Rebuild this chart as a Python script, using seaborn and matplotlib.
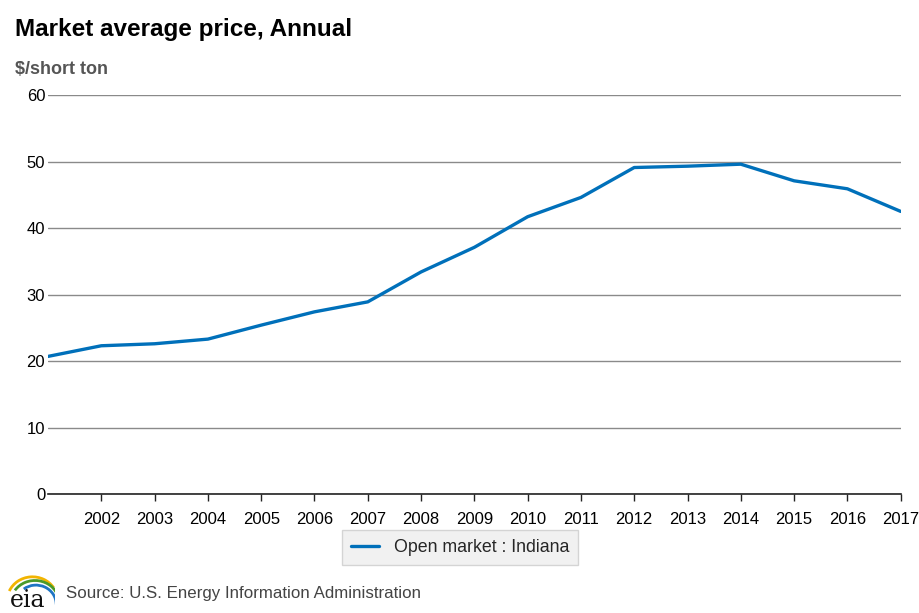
import numpy as np
import pandas as pd
import matplotlib
matplotlib.use("Agg")
import matplotlib.pyplot as plt
import seaborn as sns
from matplotlib.patches import Arc

# data
years = list(range(2001, 2018))
prices = [20.7, 22.3, 22.6, 23.3, 25.4, 27.4, 28.9, 33.4, 37.1, 41.7,
          44.6, 49.1, 49.3, 49.6, 47.1, 45.9, 42.5]
series_name = "Open market : Indiana"
ytick_values = [0, 10, 20, 30, 40, 50, 60]
xtick_years = list(range(2002, 2018))

df = pd.DataFrame({"year": years, "price": prices, "series": series_name})

sns.set_style("white")
plt.rcParams['font.family'] = ['Liberation Sans', 'DejaVu Sans']

fig = plt.figure(figsize=(9.2, 6.13), dpi=100)
ax = fig.add_axes([0.0522, 0.194, 0.9268, 0.651])

sns.lineplot(data=df, x="year", y="price", hue="series",
             palette=["#0070ba"], linewidth=2.4, ax=ax, legend=False)

ax.set_xlim(2001, 2017)
ax.set_ylim(0, 60)
ax.set_yticks(ytick_values)
ax.set_xticks(xtick_years)
ax.set_xticklabels([str(y) for y in xtick_years])
ax.yaxis.grid(True, color="#8a8a8a", linewidth=1)
ax.set_axisbelow(True)
for side in ["top", "right", "left"]:
    ax.spines[side].set_visible(False)
ax.spines["bottom"].set_color("#222222")
ax.spines["bottom"].set_linewidth(1.2)
ax.tick_params(axis="x", direction="out", length=5, width=1, color="#222222",
               labelsize=12, labelcolor="#000000", pad=8, bottom=True)
ax.tick_params(axis="y", length=0, labelsize=12, labelcolor="#000000", pad=2)
ax.set_xlabel("")
ax.set_ylabel("")

# title and units
fig.text(0.016, 0.952, "Market average price, Annual", fontsize=17.5,
         fontweight="bold", color="#000000", va="center")
fig.text(0.016, 0.887, "$/short ton", fontsize=13, fontweight="bold",
         color="#555555", va="center")

# legend box
handle = plt.Line2D([], [], color="#0070ba", linewidth=2.4)
leg = fig.legend([handle], [series_name], loc="center",
                 bbox_to_anchor=(0.5, 0.107), frameon=True, fontsize=12.8,
                 handlelength=1.6, fancybox=False, borderpad=0.5)
leg.get_frame().set_facecolor("#eeeeee")
leg.get_frame().set_edgecolor("#cccccc")

# source line with a rough eia logo
fig.text(0.072, 0.031, "Source: U.S. Energy Information Administration",
         fontsize=12.2, color="#444444", va="center")
lax = fig.add_axes([0.005, 0.005, 0.055, 0.06])
lax.set_xlim(0, 1)
lax.set_ylim(0, 1)
lax.axis("off")
lax.text(0.45, 0.25, "eia", fontsize=17, family="DejaVu Serif",
         ha="center", va="center", color="#111111")
lax.add_patch(Arc((0.55, 0.25), 1.0, 1.3, theta1=40, theta2=150,
                  color="#f2b400", linewidth=2))
lax.add_patch(Arc((0.6, 0.2), 0.95, 1.2, theta1=20, theta2=140,
                  color="#4a9a2a", linewidth=2))
lax.add_patch(Arc((0.62, 0.15), 0.8, 1.05, theta1=0, theta2=120,
                  color="#1f75c4", linewidth=2))

fig.savefig("out.png", dpi=100)
